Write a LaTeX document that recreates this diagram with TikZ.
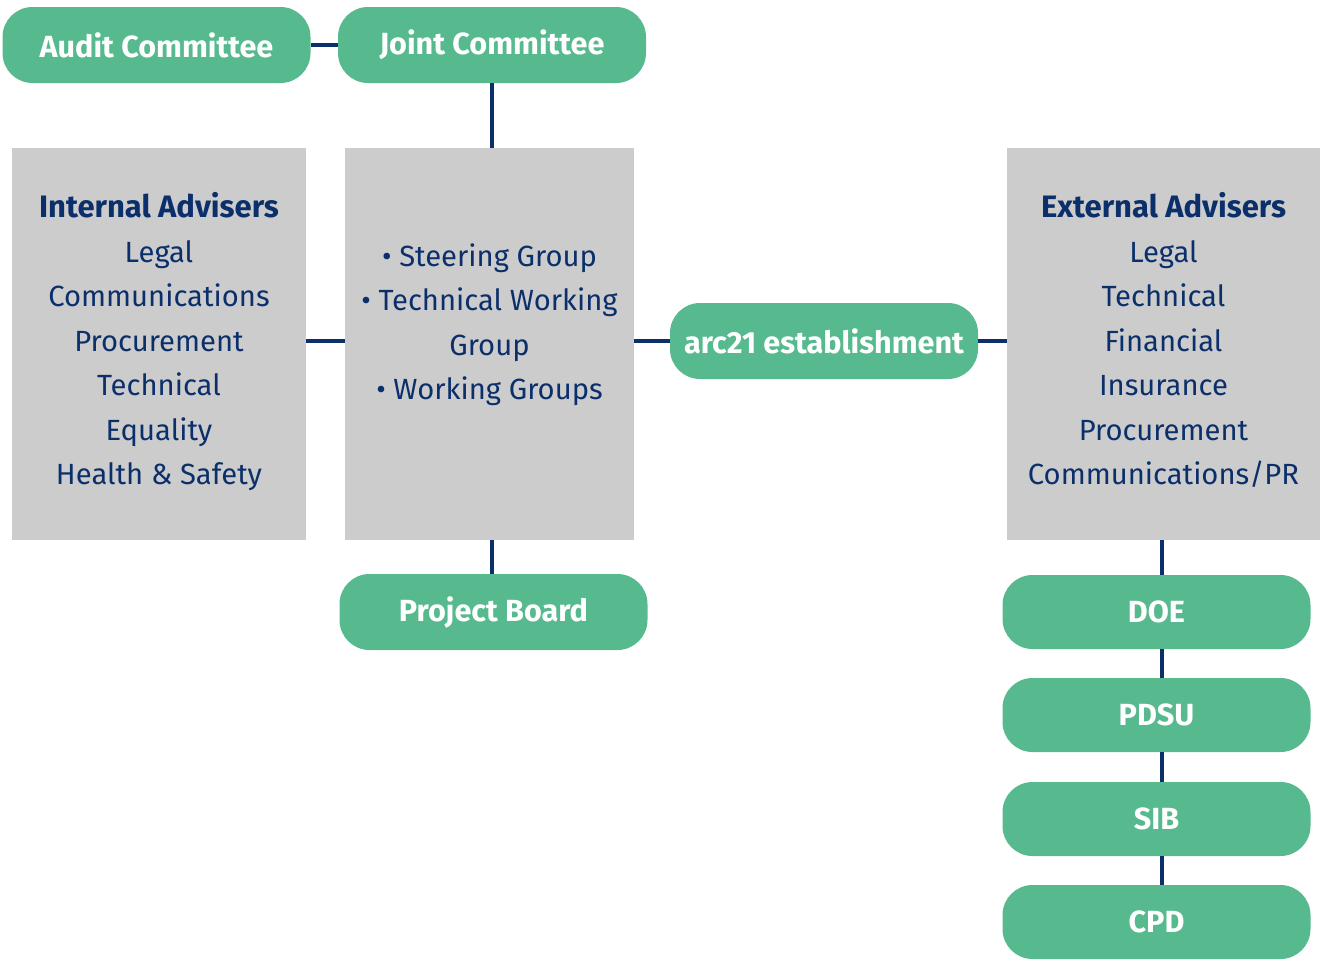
\documentclass[tikz,border=0pt]{standalone}
\usepackage{fontspec}
\setmainfont{Fira Sans}
\usepackage{xcolor}
\usepackage{tikz}
\usetikzlibrary{calc}
\usetikzlibrary{positioning}
\definecolor{pillgreen}{HTML}{57BA8E}
\definecolor{boxgrey}{HTML}{CCCCCC}
\definecolor{navy}{HTML}{0B2F6B}
\tikzset{pill/.style = {rectangle, fill = pillgreen, rounded corners = 15pt, text = white, font = \fontsize{15.3}{18}\selectfont\bfseries, minimum width = 154pt, minimum height = 38pt, inner sep = 0}}
\tikzset{advbox/.style = {rectangle, fill = boxgrey, text = navy, align = center, font = \fontsize{14.6}{22.25}\selectfont, minimum height = 196pt, inner sep = 0}}
\tikzset{link/.style = {-, draw = navy, line width = 2pt}}
\newcommand{\advtitle}[1]{{\fontsize{15.5}{22.25}\selectfont\bfseries #1}}

\begin{document}
\begin{tikzpicture}[x = 0.5pt, y = -0.5pt]
\useasboundingbox (0, 0) rectangle (1324, 960);
%\node at (660, 480) {org chart};
\node [pill] (audit) at (156.5, 45) {Audit Committee};
\node [pill] (joint) at (492, 45) {Joint Committee};
\node [advbox, minimum width = 147pt] (intadv) at (159, 344) {\advtitle{Internal Advisers}\\ Legal\\ Communications\\ Procurement\\ Technical\\ Equality\\ Health \& Safety\\[-17pt] ~};
\node [advbox, minimum width = 144.5pt] (groups) at (489.5, 344) {• Steering Group\\ • Technical Working\\ Group\\ • Working Groups\\ ~};
\node [pill] (arc) at (824, 341) {arc21 establishment};
\node [advbox, minimum width = 156.5pt] (extadv) at (1163.5, 344) {\advtitle{External Advisers}\\ Legal\\ Technical\\ Financial\\ Insurance\\ Procurement\\ Communications/PR\\[-17pt] ~};
\node [pill] (board) at (493.5, 612) {Project Board};
\node [pill, minimum height = 37pt] (doe) at (1156.5, 612) {DOE};
\node [pill, minimum height = 37pt] (pdsu) at (1156.5, 715) {PDSU};
\node [pill, minimum height = 37pt] (sib) at (1156.5, 819) {SIB};
\node [pill, minimum height = 37pt] (cpd) at (1156.5, 922) {CPD};
\draw [link] (audit) -- (joint);
\draw [link] (joint.south) -- (joint.south |- groups.north);
\draw [link] (intadv.east |- arc) -- (groups.west |- arc);
\draw [link] (groups.east |- arc) -- (arc);
\draw [link] (arc) -- (extadv.west |- arc);
\draw [link] (groups.south -| joint.south) -- (board.north -| joint.south);
\draw [link] (extadv.south -| 1162, 0) -- (doe.north -| 1162, 0);
\draw [link] (doe.south -| 1162, 0) -- (pdsu.north -| 1162, 0);
\draw [link] (pdsu.south -| 1162, 0) -- (sib.north -| 1162, 0);
\draw [link] (sib.south -| 1162, 0) -- (cpd.north -| 1162, 0);
\end{tikzpicture}
\end{document}
